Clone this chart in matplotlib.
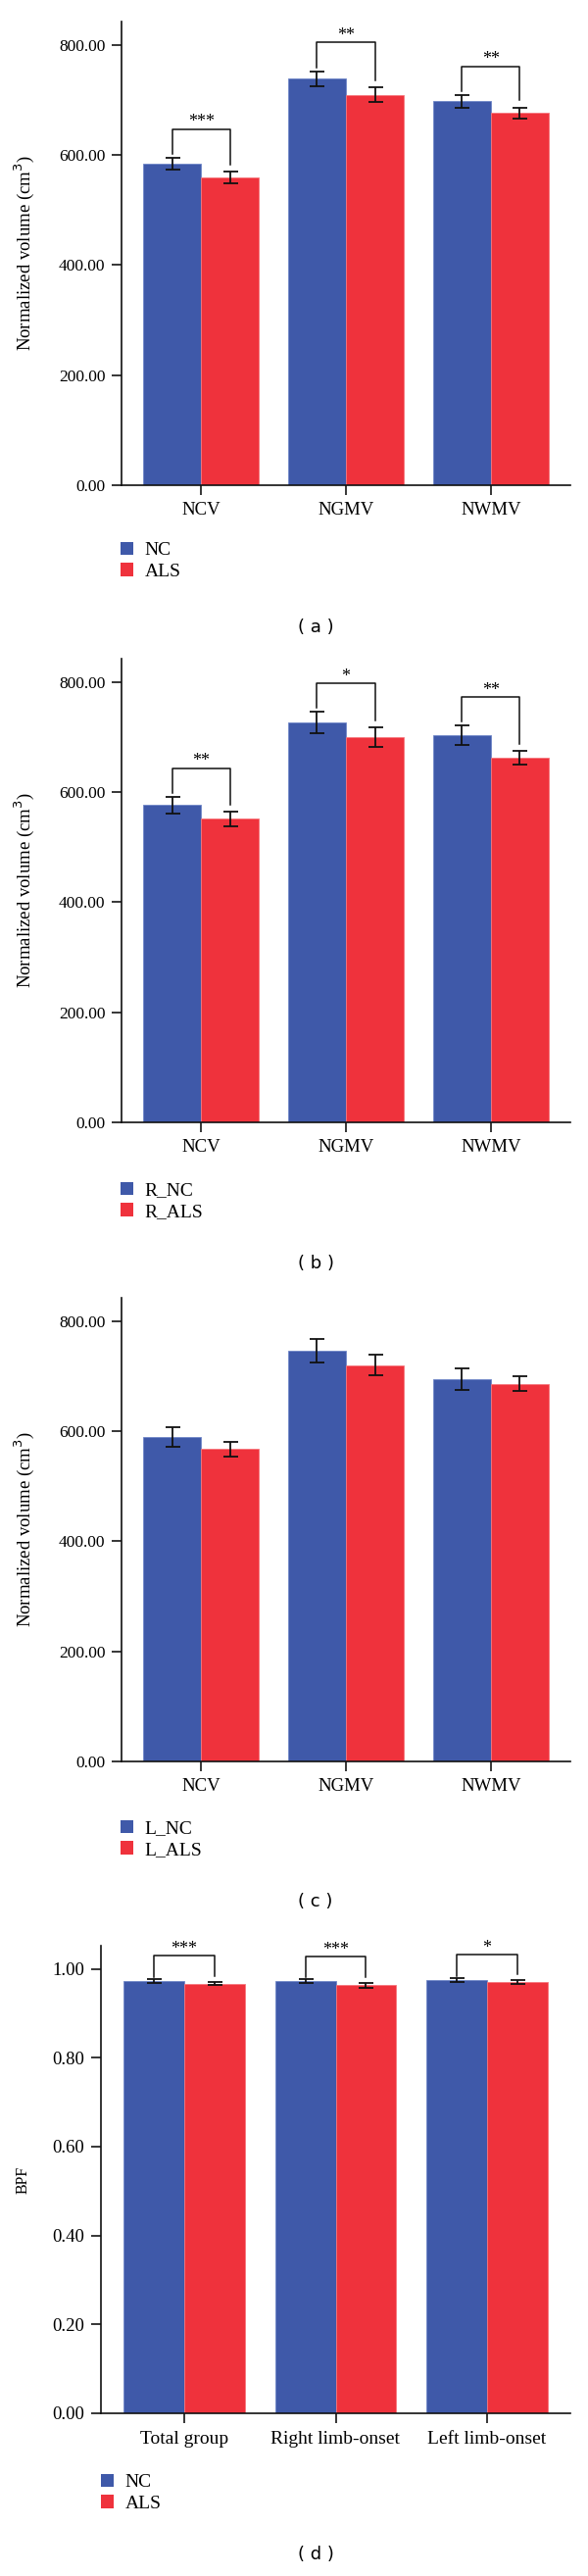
import numpy as np
import matplotlib
matplotlib.use("Agg")
import matplotlib.pyplot as plt
from matplotlib.patches import Patch

# panel (a) - total group
vol_cats = ['NCV', 'NGMV', 'NWMV']
nc_a = [584, 738, 697]
als_a = [559, 709, 676]
nc_a_err = [11, 14, 12]
als_a_err = [10, 13, 10]
sig_a = ['***', '**', '**']

# panel (b) - right limb-onset
nc_b = [576, 726, 703]
als_b = [551, 699, 662]
nc_b_err = [15.5, 20, 18]
als_b_err = [13.5, 18, 13]
sig_b = ['**', '*', '**']

# panel (c) - left limb-onset
nc_c = [589, 746, 695]
als_c = [567, 720, 686]
nc_c_err = [18, 22, 19.5]
als_c_err = [12.5, 19, 13.5]
sig_c = [None, None, None]

# panel (d) - brain parenchymal fraction
bpf_cats = ['Total group', 'Right limb-onset', 'Left limb-onset']
nc_d = [0.973, 0.973, 0.975]
als_d = [0.967, 0.963, 0.971]
nc_d_err = [0.004, 0.0045, 0.0035]
als_d_err = [0.004, 0.005, 0.004]
sig_d = ['***', '***', '*']

BLUE = '#3f59a9'
RED = '#ef323c'
SERIF = 'Liberation Serif'
W, H = 600, 2628


def add_axes(fig, left, right, top, bottom):
    return fig.add_axes([left / W, 1 - bottom / H, (right - left) / W, (bottom - top) / H])


def draw_panel(fig, box, cats, nc, als, nc_err, als_err, sig, names, ylim, yticks,
               ylabel, ylab_x, ylab_size, lab_size, tick_size, gaps, leg_xy, tag,
               tag_y, xpad):
    ax = add_axes(fig, *box)
    x = np.arange(len(cats))
    w = 0.4
    ax.bar(x - w / 2, nc, w, color=BLUE, edgecolor='#6f86c8', linewidth=0.6)
    ax.bar(x + w / 2, als, w, color=RED, edgecolor='#f7767c', linewidth=0.6)
    ax.errorbar(x - w / 2, nc, yerr=nc_err, fmt='none', ecolor='#111111',
                elinewidth=1.3, capsize=5.4, capthick=1.3)
    ax.errorbar(x + w / 2, als, yerr=als_err, fmt='none', ecolor='#111111',
                elinewidth=1.3, capsize=5.4, capthick=1.3)

    gl, gr, gh = gaps
    for i in range(len(cats)):
        if sig[i] is None:
            continue
        y1 = nc[i] + nc_err[i] + gl
        y2 = als[i] + als_err[i] + gr
        top = max(y1, y2) + gh
        ax.plot([x[i] - w / 2, x[i] - w / 2, x[i] + w / 2, x[i] + w / 2],
                [y1, top, top, y2], color='#111111', lw=1.1)
        ax.annotate(sig[i], (x[i], top), xytext=(0, 1.5), textcoords='offset points',
                    ha='center', va='baseline', fontsize=13, family=SERIF)

    ax.set_xlim(-0.55, len(cats) - 0.45)
    ax.set_ylim(*ylim)
    ax.set_yticks(yticks)
    ax.set_yticklabels(['%.2f' % v for v in yticks], family=SERIF, fontsize=tick_size)
    ax.set_xticks(x)
    ax.set_xticklabels(cats, family=SERIF, fontsize=lab_size)
    ax.set_ylabel(ylabel, family=SERIF, fontsize=ylab_size)
    ax.yaxis.set_label_coords(ylab_x, 0.5)
    for s in ['top', 'right']:
        ax.spines[s].set_visible(False)
    for s in ['left', 'bottom']:
        ax.spines[s].set_linewidth(1.2)
        ax.spines[s].set_color('#111111')
    ax.tick_params(axis='y', direction='out', length=7, width=1.1, pad=5)
    ax.tick_params(axis='x', direction='out', length=7, width=1.1, pad=xpad)

    handles = [Patch(facecolor=BLUE), Patch(facecolor=RED)]
    ax.legend(handles, names, loc='upper left', frameon=False,
              bbox_to_anchor=(leg_xy[0] / W, 1 - leg_xy[1] / H),
              bbox_transform=fig.transFigure, borderpad=0, borderaxespad=0,
              handlelength=0.67, handleheight=0.67, handletextpad=0.6,
              labelspacing=0.2, prop={'family': SERIF, 'size': 14})
    fig.text(322 / W, 1 - tag_y / H, tag, ha='center', va='center',
             family='DejaVu Sans', fontsize=13)
    return ax


def main():
    fig = plt.figure(figsize=(6, 26.28), dpi=100)
    vol_ticks = [0, 200, 400, 600, 800]
    vol_label = 'Normalized volume (cm$^3$)'
    vol_gaps = (7, 13, 45)
    draw_panel(fig, (124, 582, 22, 495), vol_cats, nc_a, als_a, nc_a_err, als_a_err,
               sig_a, ['NC', 'ALS'], (0, 842), vol_ticks, vol_label, -0.19, 13.5,
               13.5, 12.5, vol_gaps, (123, 553), '( a )', 640, 5)
    draw_panel(fig, (124, 582, 672, 1145), vol_cats, nc_b, als_b, nc_b_err, als_b_err,
               sig_b, ['R_NC', 'R_ALS'], (0, 842), vol_ticks, vol_label, -0.19, 13.5,
               13.5, 12.5, vol_gaps, (123, 1206), '( b )', 1289, 5)
    draw_panel(fig, (124, 582, 1324, 1797), vol_cats, nc_c, als_c, nc_c_err, als_c_err,
               sig_c, ['L_NC', 'L_ALS'], (0, 842), vol_ticks, vol_label, -0.19, 13.5,
               13.5, 12.5, vol_gaps, (123, 1857), '( c )', 1940, 5)
    draw_panel(fig, (103, 582, 1985, 2462), bpf_cats, nc_d, als_d, nc_d_err, als_d_err,
               sig_d, ['NC', 'ALS'], (0, 1.052), [0, 0.2, 0.4, 0.6, 0.8, 1.0], 'BPF',
               -0.15, 11.5, 14, 13.5, (0.005, 0.013, 0.045), (103, 2524), '( d )',
               2606, 6)
    fig.savefig('out.png', dpi=100, facecolor='white')


if __name__ == "__main__":
    main()
